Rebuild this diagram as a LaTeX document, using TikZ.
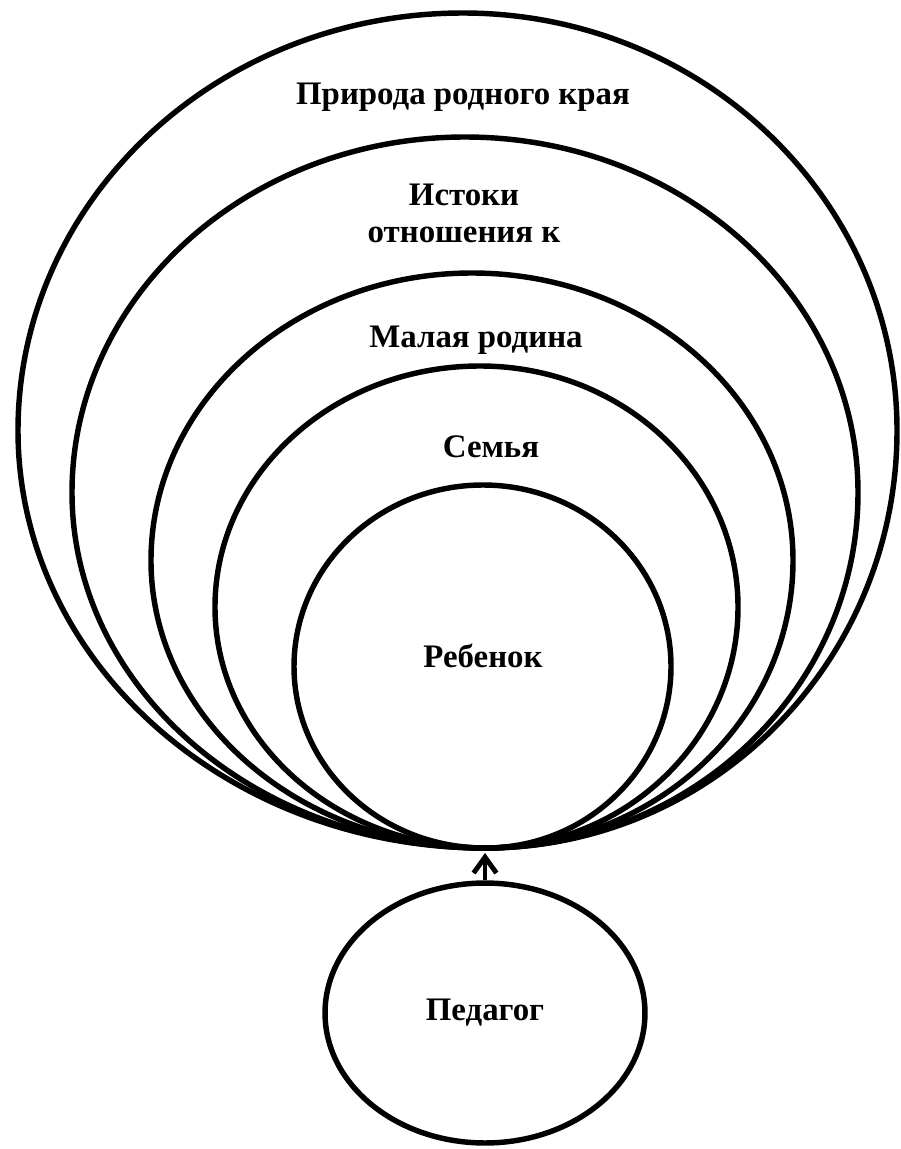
\documentclass[tikz,border=0pt]{standalone}
\usepackage{fontspec}
\setmainfont{Liberation Serif}
\usetikzlibrary{shapes.geometric, arrows.meta}
\tikzset{
	krug/.style = {line width = 3.1pt},
	nadpis/.style = {font = \bfseries\fontsize{18.7}{21}\selectfont, inner sep = 0pt, anchor = base}
}
\begin{document}
\begin{tikzpicture}[x = .02cm, y = -.02cm]
	\useasboundingbox (0, 0) rectangle (900, 1149);
	\def\bx{485} \def\by{848} \def\k{0.5523}
	\foreach \l/\t/\r/\ty in {18/463/897/13, 72/465/858/137, 151/472/793/273, 215/480/738/366, 294/483/671/485}{
		\pgfmathsetmacro\cy{(\ty + \by)/2}
		\draw[krug] (\bx, \by) .. controls ({\bx - \k*(\bx - \l)}, \by) and (\l, {\cy + \k*(\by - \cy)}) .. (\l, \cy)
			.. controls (\l, {\cy - \k*(\cy - \ty)}) and ({\t - \k*(\t - \l)}, \ty) .. (\t, \ty)
			.. controls ({\t + \k*(\r - \t)}, \ty) and (\r, {\cy - \k*(\cy - \ty)}) .. (\r, \cy)
			.. controls (\r, {\cy + \k*(\by - \cy)}) and ({\bx + \k*(\r - \bx)}, \by) .. cycle;
	}
	\coordinate (kasanie) at (485, 853);
	\node[krug, draw, ellipse, minimum width = 6.4cm, minimum height = 5.2cm, inner sep = 0pt, font = \bfseries\fontsize{18.7}{21}\selectfont] (pedagog) at (485, 1013) {Педагог};
	\draw[krug, line width = 2.8pt, -{Straight Barb[length = 9pt, width = 13pt]}] (pedagog) -- (kasanie);
	\node[nadpis] (priroda) at (463, 105) {Природа родного края};
	\node[nadpis, anchor = center, align = center] (istoki) at (464, 213) {Истоки\\отношения к};
	\node[nadpis] (rodina) at (476, 347) {Малая родина};
	\node[nadpis] (semya) at (491, 457) {Семья};
	\node[nadpis] (rebenok) at (483, 667) {Ребенок};
\end{tikzpicture}
\end{document}
